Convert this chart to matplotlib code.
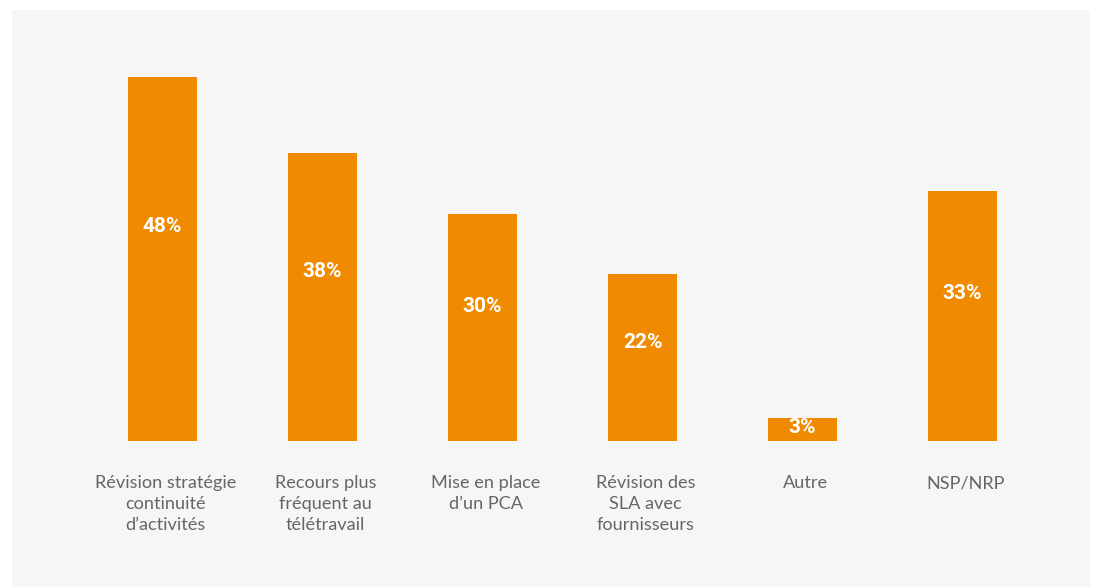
import matplotlib
matplotlib.use("Agg")
import matplotlib.pyplot as plt

categories = [
    "Révision stratégie\ncontinuité\nd’activités",
    "Recours plus\nfréquent au\ntélétravail",
    "Mise en place\nd’un PCA",
    "Révision des\nSLA avec\nfournisseurs",
    "Autre",
    "NSP/NRP",
]
values = [48, 38, 30, 22, 3, 33]
value_labels = ["48%", "38%", "30%", "22%", "3%", "33%"]

W, H = 1095, 587
fig = plt.figure(figsize=(W / 100, H / 100), dpi=100)
fig.patch.set_facecolor("white")

# grey panel holding the chart
ax = fig.add_axes([12 / W, 0, (1090 - 12) / W, (587 - 10) / H])
ax.set_facecolor("#f6f6f6")
for s in ax.spines.values():
    s.set_visible(False)
ax.set_xticks([])
ax.set_yticks([])

x = list(range(len(values)))
ax.bar(x, values, width=0.43, color="#f08a00", zorder=2)

for xi, v, lab in zip(x, values, value_labels):
    ax.text(xi, v * 0.59, lab, ha="center", va="center", color="white",
            fontsize=15, fontweight="bold", family=["Roboto", "DejaVu Sans"], zorder=3)

for xi, cat in zip(x, categories):
    ax.text(xi + 0.02, -4.55, cat, ha="center", va="top", color="#666666",
            fontsize=13.1, family=["Lato", "DejaVu Sans"], linespacing=1.37)

ax.set_xlim((12 - 162.5) / 160, (1090 - 162.5) / 160)
ax.set_ylim(-(587 - 441) / 7.58, (441 - 10) / 7.58)

fig.savefig("out.png", dpi=100, facecolor=fig.get_facecolor())
